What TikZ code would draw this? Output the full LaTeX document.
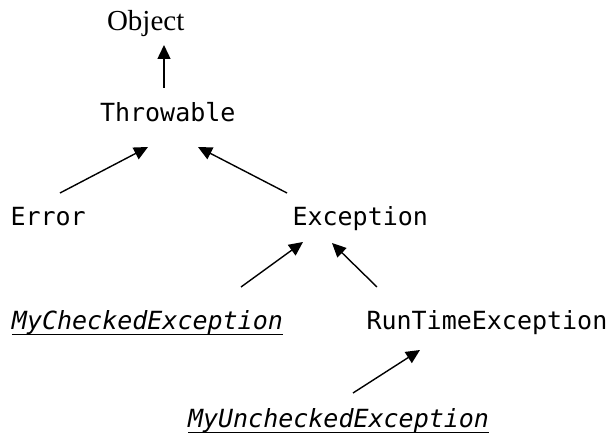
\documentclass[tikz,border=0pt]{standalone}
\usepackage{fontspec}
\setmainfont{Liberation Serif}
\setmonofont{DejaVu Sans Mono}
\usetikzlibrary{arrows.meta}
\newcommand\myul[1]{\setbox0\hbox{#1}\rlap{\rule[-5pt]{\wd0}{0.9pt}}\box0}
\begin{document}
\begin{tikzpicture}[x=1pt,y=1pt,
  lbl/.style={inner sep=0pt, outer sep=0pt, anchor=base west, font=\fontsize{25}{30}\selectfont\ttfamily},
  serif/.style={inner sep=0pt, outer sep=0pt, anchor=base west, font=\fontsize{29}{34}\selectfont\rmfamily},
  arr/.style={line width=1.4pt, -{Triangle[length=14pt,width=13pt]}}]
\useasboundingbox (0,0) rectangle (608,439);
\node[serif] (obj) at (107,408) {Object};
\node[lbl] (thr) at (100,317) {Throwable};
\node[lbl] (err) at (10.5,213) {Error};
\node[lbl] (exc) at (292.5,213) {Exception};
\node[lbl] (mce) at (12,109) {\myul{\itshape MyCheckedException}};
\node[lbl] (rte) at (366.5,109.5) {RunTimeException};
\node[lbl] (mue) at (188,11) {\myul{\itshape MyUncheckedException}};
\draw[arr] ([shift={(64,34)}]thr.base west) -- ([shift={(57,-14)}]obj.base west);
\draw[arr] ([shift={(49.5,33)}]err.base west) -- ([shift={(48,-25)}]thr.base west);
\draw[arr] ([shift={(-5.5,33)}]exc.base west) -- ([shift={(98,-25)}]thr.base west);
\draw[arr] ([shift={(229,43)}]mce.base west) -- ([shift={(10.5,-16)}]exc.base west);
\draw[arr] ([shift={(10.5,42.5)}]rte.base west) -- ([shift={(39.5,-17)}]exc.base west);
\draw[arr] ([shift={(165,35)}]mue.base west) -- ([shift={(53.5,-20.5)}]rte.base west);
\end{tikzpicture}
\end{document}
